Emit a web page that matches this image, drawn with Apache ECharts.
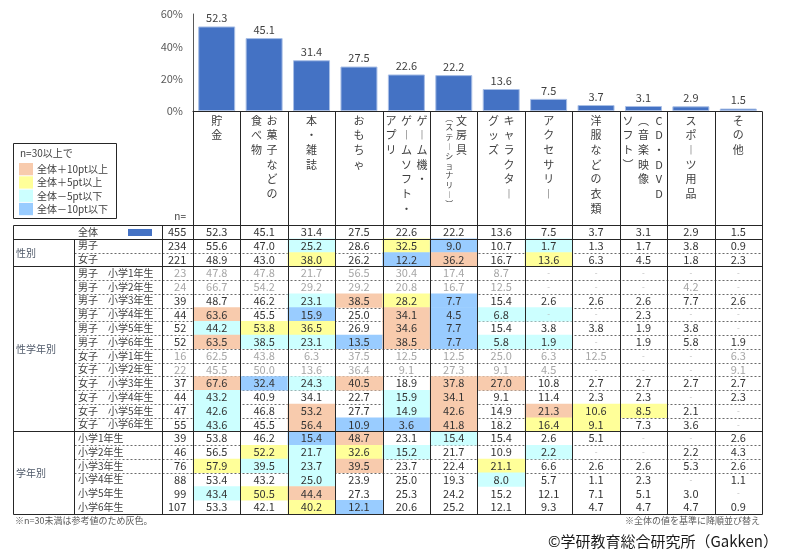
<!DOCTYPE html>
<html>
<head>
<meta charset="utf-8">
<script src="https://cdn.jsdelivr.net/npm/echarts@6/dist/echarts.min.js"></script>
<style>
  html, body { margin: 0; padding: 0; background: #fff; }
  #chart { width: 795px; height: 560px; }
</style>
</head>
<body>
<div id="chart"></div>
<script>
// 項目名：縦書きの列ごと（右の列から）
const labelColumns = [
    ["貯金"],
    ["お菓子などの", "食べ物"],
    ["本・雑誌"],
    ["おもちゃ"],
    ["ゲーム機・", "ゲームソフト・", "アプリ"],
    ["文房具", "（ステーショナリー）"],
    ["キャラクター", "グッズ"],
    ["アクセサリー"],
    ["洋服などの衣類"],
    ["CD・DVD", "（音楽映像", "ソフト）"],
    ["スポーツ用品"],
    ["その他"],
];
const categories = labelColumns.map((c) => c.join(""));

// 全体 (%)
const overall = [52.3, 45.1, 31.4, 27.5, 22.6, 22.2, 13.6, 7.5, 3.7, 3.1, 2.9, 1.5];

const rowLabels = [
    "全体", "男子", "女子",
    "男子　小学1年生", "男子　小学2年生", "男子　小学3年生", "男子　小学4年生", "男子　小学5年生", "男子　小学6年生",
    "女子　小学1年生", "女子　小学2年生", "女子　小学3年生", "女子　小学4年生", "女子　小学5年生", "女子　小学6年生",
    "小学1年生", "小学2年生", "小学3年生", "小学4年生", "小学5年生", "小学6年生",
];
const rowN = [455, 234, 221, 23, 24, 39, 44, 52, 52, 16, 22, 37, 44, 47, 55, 39, 46, 76, 88, 99, 107];

const groupLabels = ["性別", "性学年別", "学年別"];
const groupRows = [[1, 2], [3, 14], [15, 20]];

// null = "-"
const byGender = [
    [55.6, 47.0, 25.2, 28.6, 32.5, 9.0, 10.7, 1.7, 1.3, 1.7, 3.8, 0.9],
    [48.9, 43.0, 38.0, 26.2, 12.2, 36.2, 16.7, 13.6, 6.3, 4.5, 1.8, 2.3],
];
const byGenderGrade = [
    [47.8, 47.8, 21.7, 56.5, 30.4, 17.4, 8.7, null, null, null, null, null],
    [66.7, 54.2, 29.2, 29.2, 20.8, 16.7, 12.5, null, null, null, 4.2, null],
    [48.7, 46.2, 23.1, 38.5, 28.2, 7.7, 15.4, 2.6, 2.6, 2.6, 7.7, 2.6],
    [63.6, 45.5, 15.9, 25.0, 34.1, 4.5, 6.8, null, null, 2.3, null, null],
    [44.2, 53.8, 36.5, 26.9, 34.6, 7.7, 15.4, 3.8, 3.8, 1.9, 3.8, null],
    [63.5, 38.5, 23.1, 13.5, 38.5, 7.7, 5.8, 1.9, null, 1.9, 5.8, 1.9],
    [62.5, 43.8, 6.3, 37.5, 12.5, 12.5, 25.0, 6.3, 12.5, null, null, 6.3],
    [45.5, 50.0, 13.6, 36.4, 9.1, 27.3, 9.1, 4.5, null, null, null, 9.1],
    [67.6, 32.4, 24.3, 40.5, 18.9, 37.8, 27.0, 10.8, 2.7, 2.7, 2.7, 2.7],
    [43.2, 40.9, 34.1, 22.7, 15.9, 34.1, 9.1, 11.4, 2.3, 2.3, null, 2.3],
    [42.6, 46.8, 53.2, 27.7, 14.9, 42.6, 14.9, 21.3, 10.6, 8.5, 2.1, null],
    [43.6, 45.5, 56.4, 10.9, 3.6, 41.8, 18.2, 16.4, 9.1, 7.3, 3.6, null],
];
const byGrade = [
    [53.8, 46.2, 15.4, 48.7, 23.1, 15.4, 15.4, 2.6, 5.1, null, null, 2.6],
    [56.5, 52.2, 21.7, 32.6, 15.2, 21.7, 10.9, 2.2, null, null, 2.2, 4.3],
    [57.9, 39.5, 23.7, 39.5, 23.7, 22.4, 21.1, 6.6, 2.6, 2.6, 5.3, 2.6],
    [53.4, 43.2, 25.0, 23.9, 25.0, 19.3, 8.0, 5.7, 1.1, 2.3, null, 1.1],
    [43.4, 50.5, 44.4, 27.3, 25.3, 24.2, 15.2, 12.1, 7.1, 5.1, 3.0, null],
    [53.3, 42.1, 40.2, 12.1, 20.6, 25.2, 12.1, 9.3, 4.7, 4.7, 4.7, 0.9],
];

// o: +10pt以上, y: +5pt以上, c: -5pt以下, b: -10pt以下
const cellMarks = [
    "............",
    "..c.yb.c....",
    "..y.bo.y....",
    "............",
    "............",
    "..coyb......",
    "o.b.obcc....",
    "cyy.ob......",
    "occbobcc....",
    "............",
    "............",
    "obco.oo.....",
    "c...co......",
    "c.o.co.oyy..",
    "c.obbo.yy...",
    "..bo.c......",
    ".ycyc..c....",
    "ycco..y.....",
    "..c...c.....",
    "cyo.........",
    "..yb........",
];

const legendTitle = "n=30以上で";
const legendLabels = ["全体＋10pt以上", "全体＋5pt以上", "全体－5pt以下", "全体－10pt以下"];

const markColors = { o: "#F8CBAD", y: "#FFFF99", c: "#CCFFFF", b: "#99CCFF" };
const legendKeys = ["o", "y", "c", "b"];
const JP = '"Noto Sans CJK JP", sans-serif';
const tableRows = [overall, ...byGender, ...byGenderGrade, ...byGrade];

const fmt = (v) => (v == null ? "{d|-}" : v.toFixed(1));

const cellData = [];
tableRows.forEach((row, r) => {
    row.forEach((v, c) => {
        const m = cellMarks[r][c];
        cellData.push({
            value: [c, r, v == null ? 0 : v],
            itemStyle: { color: markColors[m] || "rgba(0,0,0,0)" },
        });
    });
});

const labelRich = {
    g: { color: "#a6a6a6", fontSize: 11, fontFamily: JP },
    d: { color: "#b8b8b8", fontSize: 8, fontFamily: JP },
};

const option = {
    animation: false,
    textStyle: { fontFamily: JP },
    grid: [
        { left: 193, top: 14, width: 569, height: 97 },
        { left: 193, top: 225, width: 569, height: 289 },
        { left: 162, top: 225, width: 31, height: 289 },
    ],
    xAxis: [
        {
            type: "category",
            gridIndex: 0,
            data: categories,
            axisLine: { lineStyle: { color: "#262626" } },
            axisTick: { show: false },
            axisLabel: { show: false },
        },
        { type: "category", gridIndex: 1, data: categories, show: false },
        { type: "category", gridIndex: 2, data: ["n"], show: false },
    ],
    yAxis: [
        {
            type: "value",
            gridIndex: 0,
            min: 0,
            max: 60,
            interval: 20,
            axisLine: { show: true, lineStyle: { color: "#595959" } },
            axisTick: { show: false },
            splitLine: { show: false },
            axisLabel: { formatter: "{value}%", color: "#595959", fontSize: 11, margin: 10 },
        },
        { type: "category", gridIndex: 1, data: rowLabels, inverse: true, show: false },
        {
            type: "category",
            gridIndex: 2,
            data: rowLabels,
            inverse: true,
            axisLine: { show: false },
            axisTick: { show: false },
            axisLabel: { align: "left", margin: 84, fontSize: 10, color: "#404040" },
        },
    ],
    series: [
        {
            type: "bar",
            xAxisIndex: 0,
            yAxisIndex: 0,
            data: overall,
            barWidth: "78%",
            itemStyle: { color: "#4472C4", borderColor: "#a9bfe6", borderWidth: 1 },
            label: {
                show: true,
                position: "top",
                distance: 3,
                color: "#404040",
                fontSize: 11,
                formatter: (p) => p.value.toFixed(1),
            },
        },
        {
            type: "heatmap",
            xAxisIndex: 1,
            yAxisIndex: 1,
            data: cellData,
            emphasis: { disabled: true },
            label: {
                show: true,
                color: "#333",
                fontSize: 11,
                rich: labelRich,
                formatter: (p) => {
                    const [c, r] = p.value;
                    const s = fmt(tableRows[r][c]);
                    return rowN[r] < 30 && tableRows[r][c] != null ? `{g|${s}}` : s;
                },
            },
        },
        {
            type: "heatmap",
            xAxisIndex: 2,
            yAxisIndex: 2,
            data: rowN.map((n, r) => ({ value: [0, r, n], itemStyle: { color: "rgba(0,0,0,0)" } })),
            emphasis: { disabled: true },
            label: {
                show: true,
                position: "insideRight",
                distance: 7,
                color: "#333",
                fontSize: 11,
                rich: labelRich,
                formatter: (p) => (p.value[2] < 30 ? `{g|${p.value[2]}}` : String(p.value[2])),
            },
        },
    ],
};

const chart = echarts.init(document.getElementById("chart"));
chart.setOption(option);

// 表の罫線・縦書き項目名・凡例などを軸の位置から組み立てる
const at = (grid, x, y) => chart.convertToPixel({ gridIndex: grid }, [x, y]);
const p0 = at(1, 0, 0);
const p1 = at(1, 1, 1);
const cw = p1[0] - p0[0];
const rh = p1[1] - p0[1];
const rowEdge = (r) => Math.round(p0[1] - rh / 2 + r * rh) + 0.5;
const colEdge = (k) => Math.round(p0[0] - cw / 2 + k * cw) + 0.5;
const barBase = at(0, 0, 0)[1];
const xRight = colEdge(12);
const tableLeft = 13.5, groupSep = 74.5, nSep = 162.5;

const els = [];
const line = (x1, y1, x2, y2, dashed) =>
    els.push({
        type: "line",
        z: dashed ? 1 : 10,
        shape: { x1, y1, x2, y2 },
        style: { stroke: dashed ? "#6b6b6b" : "#262626", lineWidth: 1, lineDash: dashed ? [2, 2] : null },
    });
const text = (x, y, s, opt = {}) =>
    els.push({
        type: "text",
        z: 12,
        style: Object.assign(
            {
                x, y, text: s,
                fill: "#404040",
                fontSize: 10,
                fontFamily: JP,
                align: "left", textAlign: "left",
                verticalAlign: "middle", textVerticalAlign: "middle",
            },
            opt
        ),
    });

// 横罫線
[0, 1, 3, 15, 21].forEach((r) => line(tableLeft, rowEdge(r), xRight, rowEdge(r)));
[2, 4, 5, 6, 7, 8, 9, 10, 11, 12, 13, 14, 16, 17, 18].forEach((r) =>
    line(groupSep, rowEdge(r), xRight, rowEdge(r), true)
);
// 縦罫線
line(tableLeft, rowEdge(0), tableLeft, rowEdge(21));
line(groupSep, rowEdge(1), groupSep, rowEdge(21));
line(nSep, rowEdge(0), nSep, rowEdge(21));
for (let k = 0; k <= 12; k++) line(colEdge(k), Math.round(barBase) + 0.5, colEdge(k), rowEdge(21));

// 縦書きの項目名
const vertical = (s) =>
    Array.from(s)
        .map((ch) => ({ "ー": "︱", "（": "︵", "）": "︶" }[ch] || ch))
        .join("\n");
labelColumns.forEach((cols, i) => {
    const cx = at(0, i, 0)[0];
    const n = cols.length;
    cols.forEach((col, k) => {
        const small = col.startsWith("（") && col.endsWith("）");
        const x = cx + ((n - 1) / 2 - k) * (small ? 13 : 15.5) + (small ? 2 : 0);
        text(x, barBase + 2, vertical(col), {
            align: "center", textAlign: "center",
            verticalAlign: "top", textVerticalAlign: "top",
            fontSize: small ? 8 : 11,
            lineHeight: small ? 9.6 : 14.7,
        });
    });
});

// 凡例
els.push({
    type: "rect",
    z: 11,
    shape: { x: 13.5, y: 143.5, width: 103, height: 75 },
    style: { fill: "#fff", stroke: "#262626", lineWidth: 1 },
});
text(20, 153, legendTitle, { fontSize: 10 });
legendLabels.forEach((s, i) => {
    const y = 163 + i * 13.3;
    els.push({
        type: "rect",
        z: 12,
        shape: { x: 19, y, width: 14, height: 12.3 },
        style: { fill: markColors[legendKeys[i]] },
    });
    text(37, y + 6.3, s, { fontSize: 10 });
});

text(186, 216, "n=", { align: "right", textAlign: "right", fontSize: 10 });

// 全体行の目印
els.push({
    type: "rect",
    z: 12,
    shape: { x: 128, y: (rowEdge(0) + rowEdge(1)) / 2 - 3.5, width: 24, height: 7 },
    style: { fill: "#4472C4" },
});

// 区分名
groupLabels.forEach((g, i) => {
    const [a, b] = groupRows[i];
    text(16, (rowEdge(a) + rowEdge(b + 1)) / 2, g, { fill: "#505a6a", fontSize: 10 });
});

// 注記
text(15, 521, "※n=30未満は参考値のため灰色。", { fontSize: 9, fill: "#595959" });
text(760, 521, "※全体の値を基準に降順並び替え", { align: "right", textAlign: "right", fontSize: 9, fill: "#595959" });
text(548, 541, "©学研教育総合研究所（Gakken）", { fontSize: 15, fill: "#1a1a1a" });

chart.setOption({ graphic: { elements: els } });
</script>
</body>
</html>
